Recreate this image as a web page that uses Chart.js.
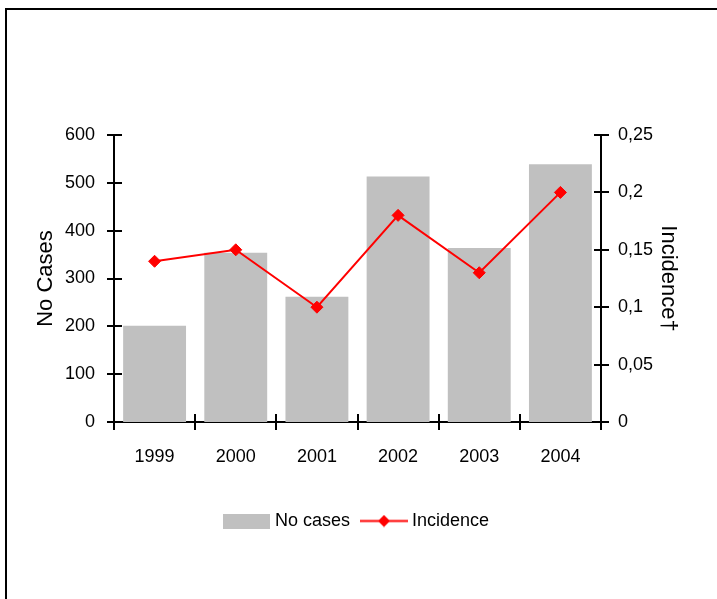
<!DOCTYPE html>
<html>
<head>
<meta charset="utf-8">
<script src="https://cdn.jsdelivr.net/npm/chart.js@4/dist/chart.umd.min.js"></script>
<style>
  html, body { margin: 0; padding: 0; background: #fff; }
  #wrap { position: relative; width: 717px; height: 599px; }
</style>
</head>
<body>
<div id="wrap"><canvas id="c" width="717" height="599"></canvas></div>
<script>
const years = ['1999', '2000', '2001', '2002', '2003', '2004'];
const noCases = [201, 354, 262, 513, 364, 539];
const incidence = [0.14, 0.15, 0.10, 0.18, 0.13, 0.20];
const casesTickLabels = ['0', '100', '200', '300', '400', '500', '600'];
const incidenceTickLabels = ['0', '0,05', '0,1', '0,15', '0,2', '0,25'];

const FONT = "'Liberation Sans Narrow', 'Arial Narrow', 'Liberation Sans', Arial, sans-serif";
const TICK_SIZE = 18;
const TITLE_SIZE = 22;
Chart.defaults.color = '#000';
Chart.defaults.font.family = FONT;
Chart.defaults.font.size = TICK_SIZE;

function barSwatch() {
  const c = document.createElement('canvas');
  c.width = 47; c.height = 15;
  const g = c.getContext('2d');
  g.fillStyle = '#C0C0C0';
  g.fillRect(0, 0, 47, 15);
  return c;
}
function lineSwatch() {
  const c = document.createElement('canvas');
  c.width = 48; c.height = 13;
  const g = c.getContext('2d');
  g.strokeStyle = '#FF0000';
  g.lineWidth = 2;
  g.beginPath(); g.moveTo(0, 6.5); g.lineTo(48, 6.5); g.stroke();
  g.fillStyle = '#FF0000';
  g.beginPath(); g.moveTo(24, 0.5); g.lineTo(30, 6.5); g.lineTo(24, 12.5); g.lineTo(18, 6.5); g.closePath(); g.fill();
  return c;
}
const swatches = [barSwatch(), lineSwatch()];

const framePlugin = {
  id: 'frameAndTicks',
  beforeDraw(chart) {
    const ctx = chart.ctx;
    ctx.save();
    ctx.strokeStyle = '#000';
    ctx.lineWidth = 2;
    ctx.strokeRect(6, 9, 900, 900);
    ctx.restore();
  },
  afterDatasetsDraw(chart) {
    const ctx = chart.ctx;
    const yL = chart.scales.y, yR = chart.scales.y1, x = chart.scales.x;
    ctx.save();
    ctx.strokeStyle = '#000';
    ctx.lineWidth = 2;
    ctx.beginPath();
    yL.ticks.forEach(t => {
      const p = Math.round(yL.getPixelForValue(t.value));
      ctx.moveTo(yL.right - 7, p); ctx.lineTo(yL.right + 8, p);
    });
    yR.ticks.forEach(t => {
      const p = Math.round(yR.getPixelForValue(t.value));
      ctx.moveTo(yR.left - 7, p); ctx.lineTo(yR.left + 8, p);
    });
    for (let i = 0; i <= years.length; i++) {
      const p = Math.round(x.getPixelForValue(i - 0.5));
      ctx.moveTo(p, x.top - 8); ctx.lineTo(p, x.top + 8);
    }
    ctx.stroke();
    ctx.restore();
  }
};

new Chart(document.getElementById('c'), {
  type: 'bar',
  data: {
    labels: years,
    datasets: [
      {
        type: 'line',
        label: 'Incidence',
        data: incidence,
        yAxisID: 'y1',
        borderColor: '#FF0000',
        backgroundColor: '#FF0000',
        borderWidth: 2,
        pointStyle: 'rectRot',
        pointRadius: 6,
        pointBorderWidth: 1,
        pointBackgroundColor: '#FF0000',
        pointBorderColor: '#FF0000',
        tension: 0,
        order: 0
      },
      {
        type: 'bar',
        label: 'No cases',
        data: noCases,
        yAxisID: 'y',
        backgroundColor: '#C0C0C0',
        borderWidth: 0,
        categoryPercentage: 1.0,
        barPercentage: 0.775,
        order: 1
      }
    ]
  },
  options: {
    responsive: false,
    animation: false,
    devicePixelRatio: 1,
    layout: { padding: { left: 0, right: 0, top: 135, bottom: 59 } },
    plugins: {
      tooltip: { enabled: false },
      legend: {
        position: 'bottom',
        labels: {
          usePointStyle: true,
          pointStyleWidth: 38,
          boxHeight: 15,
          padding: 15,
          font: { size: TICK_SIZE, family: FONT },
          color: '#000',
          generateLabels(chart) {
            return [
              { text: 'No cases', pointStyle: swatches[0], datasetIndex: 1, hidden: false, lineWidth: 0, fillStyle: '#C0C0C0', strokeStyle: '#C0C0C0', fontColor: '#000' },
              { text: 'Incidence', pointStyle: swatches[1], datasetIndex: 0, hidden: false, lineWidth: 0, fillStyle: '#FF0000', strokeStyle: '#FF0000', fontColor: '#000' }
            ];
          }
        }
      }
    },
    scales: {
      x: {
        offset: true,
        grid: { display: false, drawTicks: false },
        border: { display: true, color: '#000', width: 2 },
        ticks: { padding: 24, font: { size: TICK_SIZE, family: FONT }, color: '#000', maxRotation: 0 },
        afterFit(s) { s.height = 75; }
      },
      y: {
        position: 'left',
        min: 0, max: 600,
        grid: { display: false, drawTicks: false },
        border: { display: true, color: '#000', width: 2 },
        ticks: {
          stepSize: 100, padding: 19, color: '#000', font: { size: TICK_SIZE, family: FONT },
          callback: (v, i) => casesTickLabels[i]
        },
        title: { display: true, text: 'No Cases', color: '#000', font: { size: TITLE_SIZE, family: FONT }, padding: { top: 33, bottom: 0 } },
        afterFit(s) { s.width = 114; }
      },
      y1: {
        position: 'right',
        min: 0, max: 0.25,
        grid: { display: false, drawTicks: false },
        border: { display: true, color: '#000', width: 2 },
        ticks: {
          stepSize: 0.05, padding: 17, color: '#000', font: { size: TICK_SIZE, family: FONT },
          callback: (v, i) => incidenceTickLabels[i]
        },
        title: { display: true, text: 'Incidence†', color: '#000', font: { size: TITLE_SIZE, family: FONT }, padding: { top: 36, bottom: 0 } },
        afterFit(s) { s.width = 116; }
      }
    }
  },
  plugins: [framePlugin]
});
</script>
</body>
</html>
